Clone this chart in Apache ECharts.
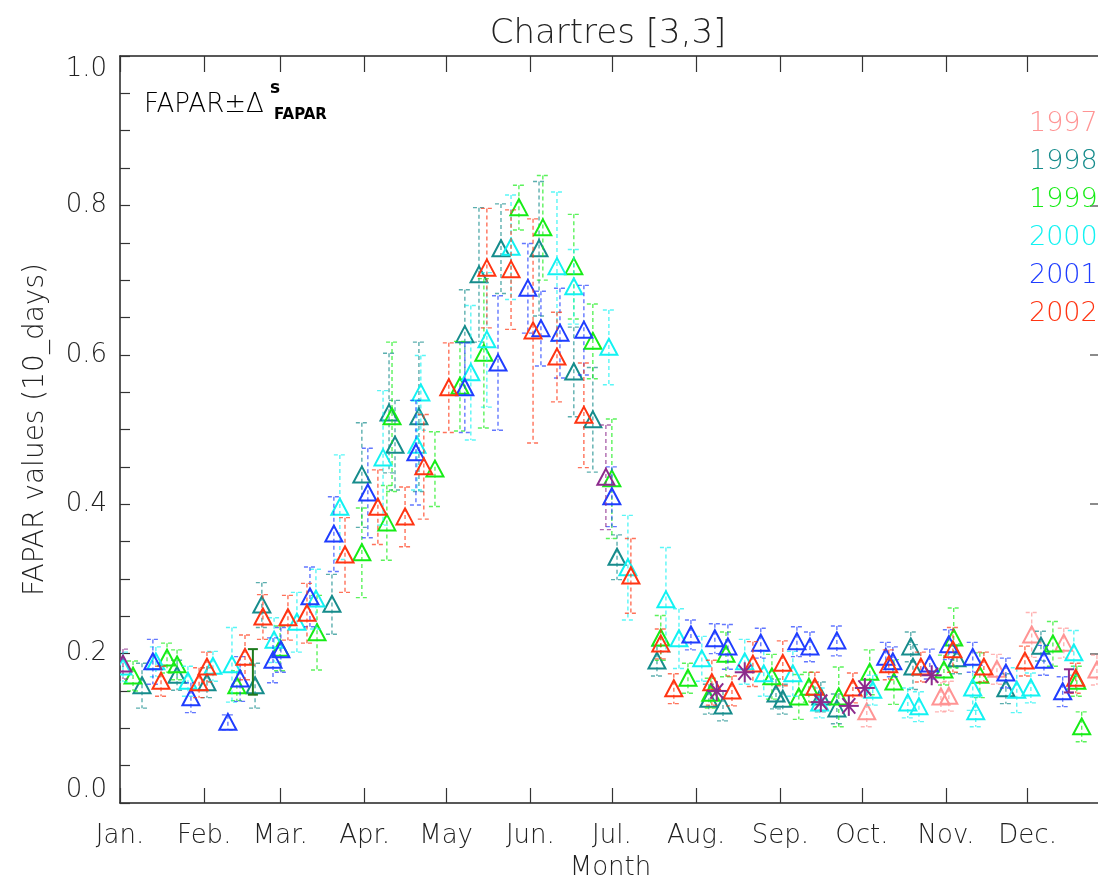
<!DOCTYPE html>
<html>
<head>
<meta charset="utf-8">
<script src="https://cdn.jsdelivr.net/npm/echarts@6/dist/echarts.min.js"></script>
<style>
  html, body { margin: 0; padding: 0; background: #fff; }
  #chart { width: 1098px; height: 882px; }
</style>
</head>
<body>
<div id="chart"></div>
<script>
// Axis ticks: first day of each month (day of year) and their labels
const monthStarts = [0, 31, 59, 90, 120, 151, 181, 212, 243, 273, 304, 334];
const monthLabels = ['Jan.', 'Feb.', 'Mar.', 'Apr.', 'May', 'Jun.', 'Jul.', 'Aug.', 'Sep.', 'Oct.', 'Nov.', 'Dec.'];

const years = ['1997', '1998', '1999', '2000', '2001', '2002'];
const yearColors = ['#ff9494', '#168c8c', '#16ec16', '#12f2f2', '#1f3dff', '#ff3412'];

// 10-day FAPAR values per year: day of year, value, uncertainty
const day1997 = [274.8, 302.1, 305.0, 322.7, 335.5, 347.3, 359.5];
const fapar1997 = [0.122, 0.142, 0.143, 0.179, 0.225, 0.214, 0.178];
const err1997 = [0.02, 0.02, 0.02, 0.02, 0.03, 0.02, 0.02];

const day1998 = [8.1, 21.0, 32.0, 49.7, 52.2, 78.0, 89.0, 99.0, 101.2, 110.0, 126.9, 132.1, 140.2, 154.2, 167.0, 174.0, 182.9, 197.6, 216.7, 221.9, 241.4, 243.9, 257.9, 263.8, 291.0, 291.8, 308.0, 326.0, 338.9];
const fapar1998 = [0.157, 0.171, 0.161, 0.157, 0.265, 0.266, 0.439, 0.522, 0.479, 0.517, 0.627, 0.707, 0.742, 0.742, 0.577, 0.513, 0.329, 0.190, 0.139, 0.130, 0.146, 0.139, 0.142, 0.126, 0.209, 0.182, 0.193, 0.153, 0.210];
const err1998 = [0.03, 0.02, 0.02, 0.03, 0.03, 0.04, 0.07, 0.08, 0.06, 0.1, 0.06, 0.09, 0.06, 0.09, 0.06, 0.07, 0.03, 0.02, 0.02, 0.02, 0.02, 0.02, 0.02, 0.02, 0.02, 0.03, 0.02, 0.02, 0.02];

const day1999 = [4.8, 17.3, 21.0, 43.0, 58.9, 72.5, 89.0, 98.2, 100.1, 115.9, 125.1, 133.9, 146.8, 155.6, 167.0, 174.0, 181.0, 199.0, 209.0, 217.4, 223.0, 239.9, 249.8, 253.5, 264.5, 275.9, 284.8, 303.2, 306.8, 316.4, 343.3, 352.1, 353.9];
const fapar1999 = [0.170, 0.194, 0.185, 0.157, 0.207, 0.228, 0.335, 0.375, 0.517, 0.447, 0.558, 0.602, 0.797, 0.770, 0.718, 0.618, 0.434, 0.221, 0.167, 0.147, 0.199, 0.169, 0.142, 0.155, 0.142, 0.175, 0.162, 0.178, 0.221, 0.171, 0.213, 0.163, 0.102];
const err1999 = [0.02, 0.02, 0.02, 0.02, 0.03, 0.05, 0.06, 0.05, 0.1, 0.05, 0.06, 0.1, 0.03, 0.07, 0.07, 0.05, 0.08, 0.03, 0.02, 0.02, 0.03, 0.03, 0.03, 0.02, 0.04, 0.03, 0.03, 0.02, 0.04, 0.03, 0.03, 0.02, 0.02];

const day2000 = [1.1, 13.2, 25.0, 34.2, 41.2, 56.7, 65.1, 72.1, 80.9, 96.8, 109.3, 110.7, 129.1, 135.0, 143.9, 160.8, 167.0, 179.9, 186.9, 200.9, 205.7, 214.1, 229.9, 236.9, 247.6, 257.5, 277.0, 289.9, 294.0, 313.8, 314.9, 330.0, 335.2, 351.0];
const fapar2000 = [0.182, 0.189, 0.163, 0.183, 0.185, 0.218, 0.242, 0.273, 0.396, 0.462, 0.479, 0.549, 0.576, 0.620, 0.744, 0.718, 0.691, 0.610, 0.315, 0.272, 0.220, 0.193, 0.189, 0.173, 0.173, 0.134, 0.151, 0.134, 0.129, 0.154, 0.122, 0.151, 0.154, 0.201];
const err2000 = [0.02, 0.02, 0.02, 0.02, 0.05, 0.03, 0.04, 0.04, 0.07, 0.09, 0.06, 0.05, 0.09, 0.09, 0.07, 0.1, 0.05, 0.05, 0.07, 0.07, 0.04, 0.03, 0.03, 0.03, 0.03, 0.02, 0.02, 0.02, 0.02, 0.03, 0.02, 0.03, 0.02, 0.03];

const day2001 = [12.1, 26.1, 39.7, 44.2, 56.3, 59.2, 69.9, 78.7, 91.2, 108.9, 126.9, 139.1, 150.1, 154.9, 161.9, 170.7, 181.0, 210.1, 218.9, 223.7, 235.8, 249.1, 253.9, 263.8, 281.8, 284.4, 298.0, 305.0, 313.8, 326.0, 340.0, 346.9];
const fapar2001 = [0.189, 0.141, 0.108, 0.166, 0.191, 0.205, 0.276, 0.360, 0.415, 0.469, 0.556, 0.589, 0.689, 0.635, 0.629, 0.633, 0.410, 0.225, 0.220, 0.209, 0.214, 0.216, 0.209, 0.217, 0.195, 0.189, 0.186, 0.212, 0.195, 0.174, 0.191, 0.149];
const err2001 = [0.03, 0.02, 0.01, 0.03, 0.03, 0.03, 0.04, 0.05, 0.06, 0.07, 0.06, 0.09, 0.06, 0.05, 0.06, 0.06, 0.04, 0.02, 0.02, 0.03, 0.02, 0.02, 0.02, 0.02, 0.02, 0.02, 0.02, 0.02, 0.02, 0.02, 0.02, 0.02];

const day2002 = [15.1, 29.1, 32.0, 46.0, 52.6, 61.8, 68.8, 82.8, 94.9, 104.9, 111.8, 121.0, 135.0, 143.9, 152.0, 160.8, 170.7, 188.0, 199.0, 203.8, 217.8, 225.2, 232.9, 243.9, 255.7, 269.7, 282.9, 294.7, 306.5, 317.9, 333.0, 351.7];
const fapar2002 = [0.163, 0.161, 0.182, 0.195, 0.249, 0.248, 0.254, 0.332, 0.396, 0.383, 0.450, 0.556, 0.716, 0.714, 0.632, 0.597, 0.519, 0.304, 0.213, 0.153, 0.161, 0.150, 0.186, 0.187, 0.155, 0.154, 0.185, 0.182, 0.205, 0.182, 0.190, 0.167];
const err2002 = [0.02, 0.02, 0.02, 0.03, 0.03, 0.03, 0.04, 0.05, 0.05, 0.04, 0.07, 0.06, 0.08, 0.08, 0.15, 0.06, 0.07, 0.05, 0.02, 0.02, 0.03, 0.02, 0.03, 0.03, 0.02, 0.02, 0.02, 0.02, 0.03, 0.02, 0.02, 0.02];

// Extra retrievals drawn in purple (triangles and asterisks)
const purpleColor = '#8c2a8c';
const dayPurpleTri = [1.1, 178.8];
const faparPurpleTri = [0.186, 0.436];
const errPurpleTri = [0.02, 0.07];
const dayPurpleStar = [219.6, 229.9, 257.9, 268.2, 274.1, 298.7];
const faparPurpleStar = [0.150, 0.175, 0.135, 0.130, 0.154, 0.171];

// Solid uncertainty bars: day, low, high
const solidBarDays = [48.9, 349.2];
const solidBarLow = [0.145, 0.148];
const solidBarHigh = [0.206, 0.179];
const solidBarColors = ['#1d7a1d', '#8c2a8c'];

const FONT = 'DejaVu Sans';
const WEIGHT = 200;
const TEXT_COLOR = '#222';

function triangleRenderer(color) {
  return function (params, api) {
    const d = api.value(0), v = api.value(1), e = api.value(2);
    const c = api.coord([d, v]);
    const children = [];
    if (e > 0) {
      const top = api.coord([d, v + e]);
      const bot = api.coord([d, v - e]);
      const dashStyle = { stroke: color, lineWidth: 1.4, lineDash: [4, 3], opacity: 0.7, fill: null };
      children.push({ type: 'line', shape: { x1: c[0], y1: top[1], x2: c[0], y2: bot[1] }, style: dashStyle, silent: true });
      children.push({ type: 'line', shape: { x1: c[0] - 6, y1: top[1], x2: c[0] + 6, y2: top[1] }, style: dashStyle, silent: true });
      children.push({ type: 'line', shape: { x1: c[0] - 6, y1: bot[1], x2: c[0] + 6, y2: bot[1] }, style: dashStyle, silent: true });
    }
    children.push({
      type: 'polygon',
      shape: { points: [[c[0] - 8.5, c[1] + 7.5], [c[0], c[1] - 8.5], [c[0] + 8.5, c[1] + 7.5]] },
      style: { fill: null, stroke: color, lineWidth: 2 },
      silent: true
    });
    return { type: 'group', children: children };
  };
}

function asteriskRenderer(color) {
  return function (params, api) {
    const c = api.coord([api.value(0), api.value(1)]);
    const r = 10;
    const children = [];
    const angles = [0, 90, 50, 130];
    angles.forEach(function (a) {
      const rad = a * Math.PI / 180;
      const dx = r * Math.cos(rad), dy = r * Math.sin(rad);
      children.push({ type: 'line', shape: { x1: c[0] - dx, y1: c[1] - dy, x2: c[0] + dx, y2: c[1] + dy }, style: { stroke: color, lineWidth: 2 }, silent: true });
    });
    return { type: 'group', children: children };
  };
}

function solidBarRenderer(params, api) {
  const d = api.value(0);
  const lo = api.coord([d, api.value(1)]);
  const hi = api.coord([d, api.value(2)]);
  const color = solidBarColors[params.dataIndex];
  const st = { stroke: color, lineWidth: 2 };
  return {
    type: 'group',
    children: [
      { type: 'line', shape: { x1: lo[0], y1: lo[1], x2: hi[0], y2: hi[1] }, style: st },
      { type: 'line', shape: { x1: lo[0] - 5, y1: lo[1], x2: lo[0] + 5, y2: lo[1] }, style: st },
      { type: 'line', shape: { x1: hi[0] - 5, y1: hi[1], x2: hi[0] + 5, y2: hi[1] }, style: st }
    ]
  };
}

function zip3(a, b, c) { return a.map(function (x, i) { return [x, b[i], c[i]]; }); }

const yearData = [
  zip3(day1997, fapar1997, err1997),
  zip3(day1998, fapar1998, err1998),
  zip3(day1999, fapar1999, err1999),
  zip3(day2000, fapar2000, err2000),
  zip3(day2001, fapar2001, err2001),
  zip3(day2002, fapar2002, err2002)
];

const series = years.map(function (y, i) {
  return {
    name: y, type: 'custom', renderItem: triangleRenderer(yearColors[i]),
    data: yearData[i], encode: { x: 0, y: 1 }, clip: true, z: 2 + i
  };
});
series.push({
  name: 'purpleTri', type: 'custom', renderItem: triangleRenderer(purpleColor),
  data: zip3(dayPurpleTri, faparPurpleTri, errPurpleTri), encode: { x: 0, y: 1 }, clip: true, z: 10
});
series.push({
  name: 'purpleStar', type: 'custom', renderItem: asteriskRenderer(purpleColor),
  data: dayPurpleStar.map(function (d, i) { return [d, faparPurpleStar[i]]; }), encode: { x: 0, y: 1 }, clip: true, z: 11
});
series.push({
  name: 'solidBars', type: 'custom', renderItem: solidBarRenderer,
  data: zip3(solidBarDays, solidBarLow, solidBarHigh), encode: { x: 0, y: [1, 2] }, clip: true, z: 12
});

const graphics = years.map(function (y, i) {
  return {
    type: 'text', left: 1029, top: 122 + 38 * i - 12,
    style: { text: y, fill: yearColors[i], font: WEIGHT + ' 27px "' + FONT + '"' },
    z: 100
  };
});
graphics.push({ type: 'text', left: 144, top: 92, style: { text: 'FAPAR\u00b1\u0394', fill: '#000', font: WEIGHT + ' 26px "' + FONT + '"' }, z: 100 });
graphics.push({ type: 'text', left: 270, top: 80, style: { text: 's', fill: '#000', font: 'bold 17px "' + FONT + '"' }, z: 100 });
graphics.push({ type: 'text', left: 274, top: 108, style: { text: 'FAPAR', fill: '#000', font: 'bold 15px "' + FONT + '"' }, z: 100 });

const chart = echarts.init(document.getElementById('chart'), null, { renderer: 'canvas' });
chart.setOption({
  animation: false,
  backgroundColor: '#fff',
  title: {
    text: 'Chartres [3,3]', left: 603, top: 12, textAlign: 'center',
    textStyle: { fontFamily: FONT, fontSize: 34, fontWeight: WEIGHT, color: TEXT_COLOR }
  },
  grid: { left: 120, top: 56, width: 981, height: 747, containLabel: false, outerBoundsMode: 'none' },
  xAxis: [
    {
      type: 'value', min: 0, max: 361, position: 'bottom',
      axisLine: { show: true, onZero: false, lineStyle: { color: '#222', width: 1.5 } },
      axisTick: { show: true, inside: true, length: 15, customValues: monthStarts, lineStyle: { color: '#333', width: 1.2 } },
      axisLabel: {
        show: true, customValues: monthStarts, margin: 20,
        formatter: function (v) { const k = monthStarts.indexOf(v); return k >= 0 ? monthLabels[k] : ''; },
        fontFamily: FONT, fontSize: 26, fontWeight: WEIGHT, color: TEXT_COLOR
      },
      splitLine: { show: false },
      name: 'Month', nameLocation: 'middle', nameGap: 52,
      nameTextStyle: { fontFamily: FONT, fontSize: 26, fontWeight: WEIGHT, color: TEXT_COLOR }
    },
    {
      type: 'value', min: 0, max: 361, position: 'top',
      axisLine: { show: true, onZero: false, lineStyle: { color: '#222', width: 1.5 } },
      axisTick: { show: true, inside: true, length: 16, customValues: monthStarts, lineStyle: { color: '#333', width: 1.2 } },
      axisLabel: { show: false },
      splitLine: { show: false }
    }
  ],
  yAxis: [
    {
      type: 'value', min: 0, max: 1, interval: 0.2, position: 'left',
      axisLine: { show: true, onZero: false, lineStyle: { color: '#222', width: 1.5 } },
      axisTick: { show: true, inside: true, length: 10, lineStyle: { color: '#333', width: 1.2 } },
      minorTick: { show: true, splitNumber: 4, length: 10, lineStyle: { color: '#333', width: 1.2 } },
      axisLabel: {
        margin: 13, formatter: function (v) { return v.toFixed(1); },
        verticalAlignMinLabel: 'bottom', verticalAlignMaxLabel: 'top',
        fontFamily: FONT, fontSize: 26, fontWeight: WEIGHT, color: TEXT_COLOR
      },
      splitLine: { show: false },
      name: 'FAPAR values (10_days)', nameLocation: 'middle', nameGap: 70, nameRotate: 90,
      nameTextStyle: { fontFamily: FONT, fontSize: 28, fontWeight: WEIGHT, color: TEXT_COLOR }
    },
    {
      type: 'value', min: 0, max: 1, interval: 0.2, position: 'right',
      axisLine: { show: true, onZero: false, lineStyle: { color: '#444', width: 1.5 } },
      axisTick: { show: true, inside: true, length: 11, lineStyle: { color: '#666', width: 1.5 } },
      axisLabel: { show: false },
      splitLine: { show: false }
    }
  ],
  graphic: graphics,
  series: series
});
</script>
</body>
</html>
